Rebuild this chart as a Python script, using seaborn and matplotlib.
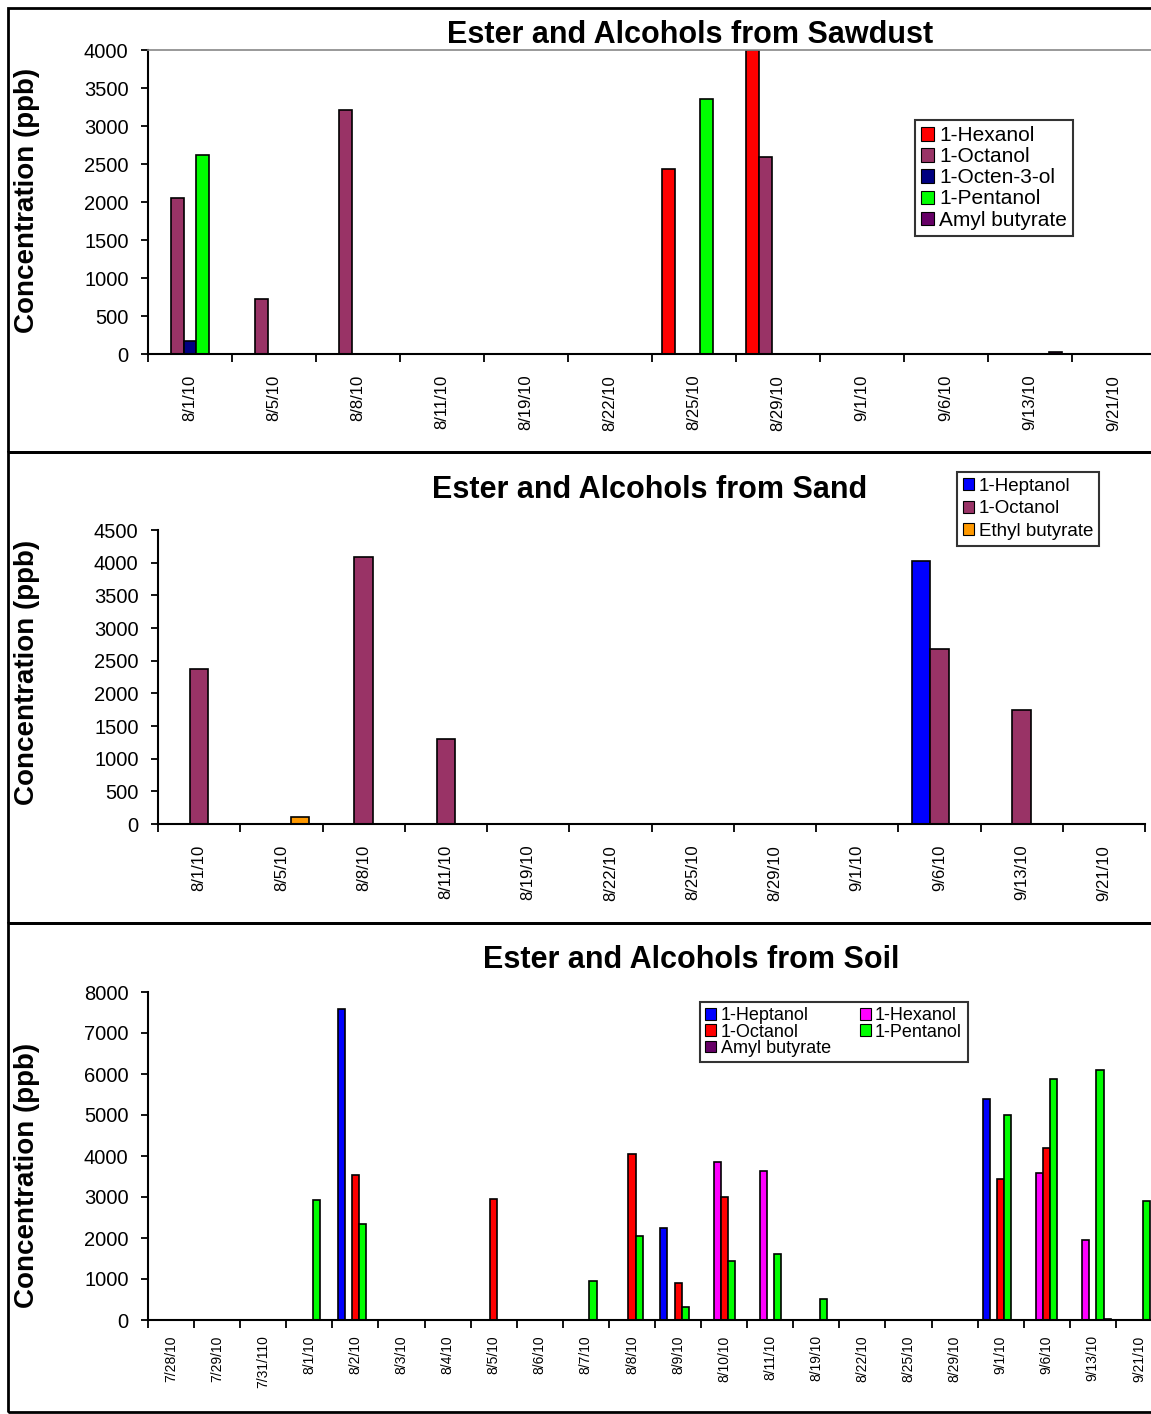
import numpy as np
import pandas as pd
import matplotlib.pyplot as plt
import seaborn as sns
from matplotlib.patches import Rectangle

# ---- data ----
saw_dates = ['8/1/10', '8/5/10', '8/8/10', '8/11/10', '8/19/10', '8/22/10',
             '8/25/10', '8/29/10', '9/1/10', '9/6/10', '9/13/10', '9/21/10']
saw_hexanol = [0, 0, 0, 0, 0, 0, 2440, 4000, 0, 0, 0, 0]
saw_octanol = [2050, 720, 3210, 0, 0, 0, 0, 2590, 0, 0, 0, 0]
saw_octenol = [170, 0, 0, 0, 0, 0, 0, 0, 0, 0, 0, 0]
saw_pentanol = [2615, 0, 0, 0, 0, 0, 3360, 0, 0, 0, 0, 0]
saw_amyl = [0, 0, 0, 0, 0, 0, 0, 0, 0, 0, 25, 0]

sand_dates = saw_dates
sand_heptanol = [0, 0, 0, 0, 0, 0, 0, 0, 0, 4030, 0, 0]
sand_octanol = [2380, 0, 4080, 1300, 0, 0, 0, 0, 0, 2675, 1750, 0]
sand_ethyl = [0, 110, 0, 0, 0, 0, 0, 0, 0, 0, 0, 0]

soil_dates = ['7/28/10', '7/29/10', '7/31/110', '8/1/10', '8/2/10', '8/3/10',
              '8/4/10', '8/5/10', '8/6/10', '8/7/10', '8/8/10', '8/9/10',
              '8/10/10', '8/11/10', '8/19/10', '8/22/10', '8/25/10', '8/29/10',
              '9/1/10', '9/6/10', '9/13/10', '9/21/10']
soil_heptanol = [0, 0, 0, 0, 7590, 0, 0, 0, 0, 0, 0, 2245,
                 0, 0, 0, 0, 0, 0, 5395, 0, 0, 0]
soil_hexanol = [0, 0, 0, 0, 0, 0, 0, 0, 0, 0, 0, 0,
                3860, 3625, 0, 0, 0, 0, 0, 3590, 1960, 0]
soil_octanol = [0, 0, 0, 0, 3535, 0, 0, 2955, 0, 0, 4055, 905,
                3005, 0, 0, 0, 0, 0, 3435, 4195, 0, 0]
soil_pentanol = [0, 0, 0, 2915, 2335, 0, 0, 0, 0, 955, 2050, 325,
                 1430, 1615, 515, 0, 0, 0, 5005, 5880, 6105, 2905]
soil_amyl = [0, 0, 0, 0, 0, 0, 0, 0, 0, 0, 0, 0,
             0, 0, 0, 0, 0, 0, 0, 0, 30, 0]

W, H = 1151, 1414
sns.set_style('white')
plt.rcParams['font.family'] = ['Liberation Sans', 'DejaVu Sans']
plt.rcParams['text.color'] = 'black'
plt.rcParams['xtick.color'] = 'black'
plt.rcParams['ytick.color'] = 'black'

fig = plt.figure(figsize=(W / 100, H / 100), dpi=100)


def px_axes(left, top, right, bottom):
    return fig.add_axes([left / W, 1 - bottom / H, (right - left) / W, (bottom - top) / H])


def panel(ax, dates, series, colors, ymax, ystep, xfs, xpad, top_line=False):
    rows = []
    for name, vals in series.items():
        for d, v in zip(dates, vals):
            rows.append({'date': d, 'compound': name, 'ppb': v})
    df = pd.DataFrame(rows)
    k = len(series)
    sns.barplot(data=df, x='date', y='ppb', hue='compound', order=dates,
                hue_order=list(series), palette=colors, errorbar=None,
                width=k / (k + 1.5), edgecolor='black', linewidth=1.2,
                saturation=1, ax=ax)
    ax.get_legend().remove()
    n = len(dates)
    ax.set_xlim(-0.5, n - 0.5)
    ax.set_ylim(0, ymax)
    ax.set_yticks(np.arange(0, ymax + 1, ystep))
    ax.set_yticklabels([str(int(t)) for t in np.arange(0, ymax + 1, ystep)], fontsize=14.5)
    ax.set_xticks(range(n))
    ax.set_xticklabels(dates, rotation=90, fontsize=xfs)
    ax.set_xticks(np.arange(-0.5, n, 1), minor=True)
    ax.tick_params(axis='x', which='major', length=0, pad=xpad)
    ax.tick_params(axis='x', which='minor', length=6, width=1.3, direction='out', bottom=True)
    ax.tick_params(axis='y', length=5, width=1.3, direction='out', left=True, pad=9)
    ax.set_xlabel('')
    ax.set_ylabel('')
    for s in ['left', 'bottom']:
        ax.spines[s].set_color('black')
        ax.spines[s].set_linewidth(1.5)
    ax.spines['right'].set_visible(False)
    if top_line:
        ax.spines['top'].set_color('#888888')
        ax.spines['top'].set_linewidth(1.2)
    else:
        ax.spines['top'].set_visible(False)
    ax.set_facecolor('white')


def add_legend(ax, order, x0, y0, fs, ncol=1, spacing=0.25, colsp=1.0):
    handles, labels = ax.get_legend_handles_labels()
    lookup = dict(zip(labels, handles))
    leg = ax.legend([lookup[o] for o in order], order, loc='upper left',
                    bbox_to_anchor=(x0 / W, 1 - y0 / H), bbox_transform=fig.transFigure,
                    fontsize=fs, ncol=ncol, frameon=True, fancybox=False,
                    edgecolor='black', handlelength=0.6, handleheight=0.6,
                    handletextpad=0.25, labelspacing=spacing, borderpad=0.3,
                    columnspacing=colsp, borderaxespad=0)
    leg.get_frame().set_linewidth(1.5)
    for h in leg.legend_handles:
        h.set_edgecolor('black')
        h.set_linewidth(0.8)


# ---- panel 1: sawdust ----
ax1 = px_axes(148, 50, 1156, 354)
saw = {'1-Hexanol': saw_hexanol, '1-Octanol': saw_octanol, '1-Octen-3-ol': saw_octenol,
       '1-Pentanol': saw_pentanol, 'Amyl butyrate': saw_amyl}
saw_colors = {'1-Hexanol': '#FF0000', '1-Octanol': '#993366', '1-Octen-3-ol': '#000080',
              '1-Pentanol': '#00FF00', 'Amyl butyrate': '#660066'}
panel(ax1, saw_dates, saw, saw_colors, 4000, 500, 12, 15, top_line=True)
add_legend(ax1, list(saw), 915, 120, 15, spacing=0.1)

# ---- panel 2: sand ----
ax2 = px_axes(158, 530, 1145, 824)
sand = {'1-Heptanol': sand_heptanol, '1-Octanol': sand_octanol, 'Ethyl butyrate': sand_ethyl}
sand_colors = {'1-Heptanol': '#0000FF', '1-Octanol': '#993366', 'Ethyl butyrate': '#FF9900'}
panel(ax2, sand_dates, sand, sand_colors, 4500, 500, 12, 15)
add_legend(ax2, list(sand), 957, 472, 13.5, spacing=0.3)

# ---- panel 3: soil ----
ax3 = px_axes(148, 992, 1162, 1320)
soil = {'1-Heptanol': soil_heptanol, '1-Hexanol': soil_hexanol, '1-Octanol': soil_octanol,
        '1-Pentanol': soil_pentanol, 'Amyl butyrate': soil_amyl}
soil_colors = {'1-Heptanol': '#0000FF', '1-Hexanol': '#FF00FF', '1-Octanol': '#FF0000',
               '1-Pentanol': '#00FF00', 'Amyl butyrate': '#660066'}
panel(ax3, soil_dates, soil, soil_colors, 8000, 1000, 10, 11)
add_legend(ax3, ['1-Heptanol', '1-Octanol', 'Amyl butyrate', '1-Hexanol', '1-Pentanol'],
           700, 1002, 13, ncol=2, spacing=-0.05, colsp=1.6)

# ---- titles, y labels and chart-area frames ----
titles = ['Ester and Alcohols from Sawdust', 'Ester and Alcohols from Sand',
          'Ester and Alcohols from Soil']
title_pos = [(690, 35), (650, 490), (691, 960)]
ylab_y = [200, 672, 1175]
frames = [(8, 452), (452, 923), (923, 1412)]
for t, (tx, ty), ly, (f0, f1) in zip(titles, title_pos, ylab_y, frames):
    fig.text(tx / W, 1 - ty / H, t, ha='center', va='center', fontsize=22,
             fontweight='bold', color='black')
    fig.text(27 / W, 1 - ly / H, 'Concentration (ppb)', ha='center', va='center',
             rotation=90, fontsize=20, fontweight='bold', color='black')
    fig.add_artist(Rectangle((8 / W, 1 - f1 / H), 1.2, (f1 - f0) / H,
                             transform=fig.transFigure, fill=False, lw=2, ec='black'))

fig.savefig('out.png', dpi=100, facecolor='white')
